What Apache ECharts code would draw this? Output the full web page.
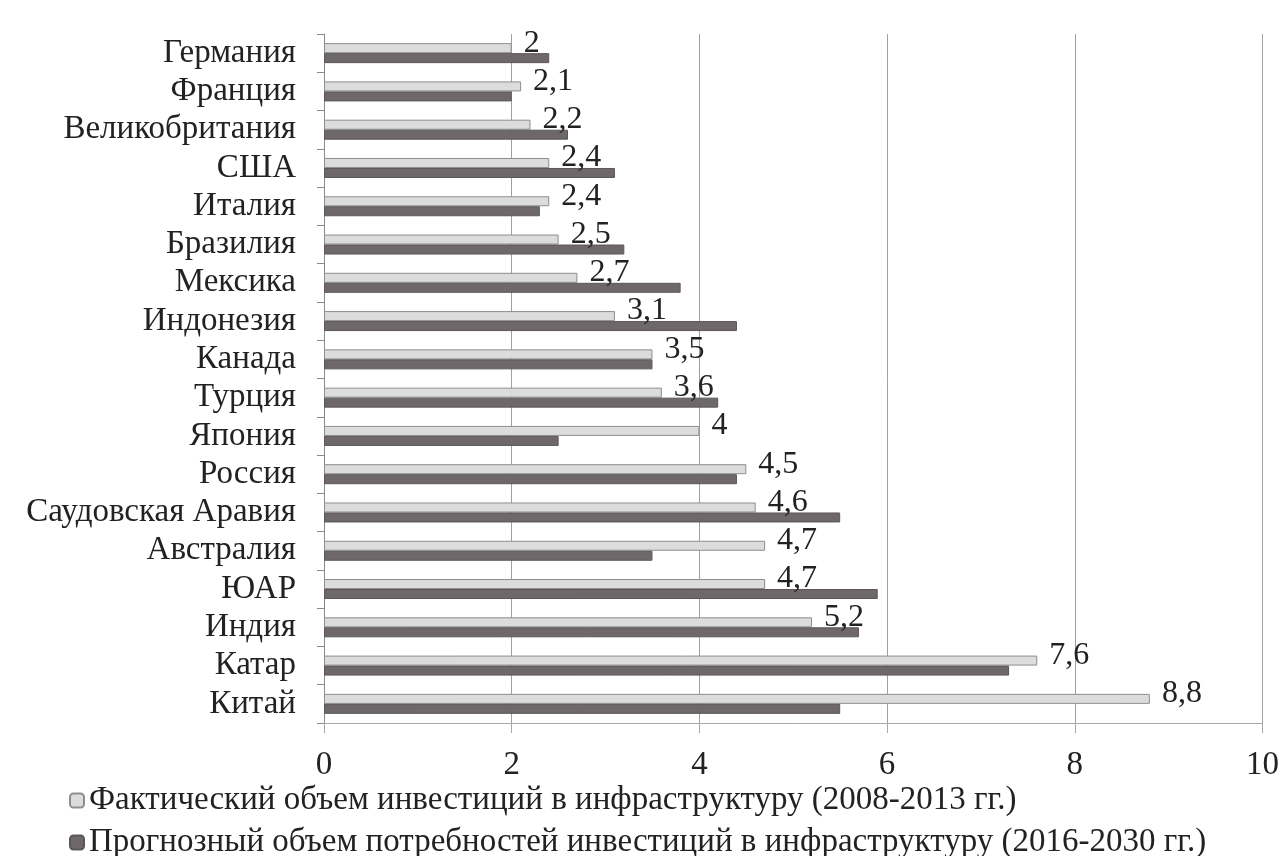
<!DOCTYPE html>
<html>
<head>
<meta charset="utf-8">
<script src="https://cdn.jsdelivr.net/npm/echarts@6/dist/echarts.min.js"></script>
<style>
html,body{margin:0;padding:0;background:#fff;}
#chart{width:1282px;height:856px;}
</style>
</head>
<body>
<div id="chart"></div>
<script>
var countries = ['Германия','Франция','Великобритания','США','Италия','Бразилия','Мексика','Индонезия','Канада','Турция','Япония','Россия','Саудовская Аравия','Австралия','ЮАР','Индия','Катар','Китай'];
var actual = [2, 2.1, 2.2, 2.4, 2.4, 2.5, 2.7, 3.1, 3.5, 3.6, 4, 4.5, 4.6, 4.7, 4.7, 5.2, 7.6, 8.8];
var forecast = [2.4, 2.0, 2.6, 3.1, 2.3, 3.2, 3.8, 4.4, 3.5, 4.2, 2.5, 4.4, 5.5, 3.5, 5.9, 5.7, 7.3, 5.5];
var seriesNames = ['Фактический объем инвестиций в инфраструктуру (2008-2013 гг.)', 'Прогнозный объем потребностей инвестиций в инфраструктуру (2016-2030 гг.)'];
var xTicks = [0, 2, 4, 6, 8, 10];

var FONT = '"Liberation Serif","DejaVu Serif",serif';
var legendText = {fontFamily: FONT, fontSize: 33, color: '#222'};
var chart = echarts.init(document.getElementById('chart'), null, {renderer: 'canvas'});
chart.setOption({
  backgroundColor: '#fff',
  animation: false,
  textStyle: {fontFamily: FONT},
  grid: {left: 324, right: 19, top: 34, bottom: 133, containLabel: false},
  legend: [
    {
      left: 64, top: 779,
      itemWidth: 14, itemHeight: 14, itemGap: 0,
      textStyle: legendText,
      data: [seriesNames[0]]
    },
    {
      left: 64, top: 821,
      itemWidth: 14, itemHeight: 14, itemGap: 0,
      textStyle: legendText,
      data: [seriesNames[1]]
    }
  ],
  xAxis: {
    type: 'value',
    min: xTicks[0],
    max: xTicks[xTicks.length - 1],
    interval: 2,
    axisLine: {show: true, lineStyle: {color: '#a8a8a8', width: 1}},
    axisTick: {show: true, length: 10, lineStyle: {color: '#a8a8a8'}},
    splitLine: {show: true, lineStyle: {color: '#a0a0a0', width: 1}},
    axisLabel: {fontFamily: FONT, fontSize: 33, color: '#222', margin: 26}
  },
  yAxis: {
    type: 'category',
    inverse: true,
    data: countries,
    axisLine: {show: true, lineStyle: {color: '#8a8a8a', width: 1}},
    axisTick: {show: true, length: 7, interval: 0, lineStyle: {color: '#8a8a8a'}},
    axisLabel: {fontFamily: FONT, fontSize: 33, color: '#222', margin: 28, interval: 0, hideOverlap: false}
  },
  series: [
    {
      name: seriesNames[0],
      type: 'bar',
      data: actual,
      barWidth: 10,
      barGap: '0%',
      itemStyle: {color: '#dcdcdc', borderColor: '#8e8e8e', borderWidth: 1},
      label: {
        show: true,
        position: 'right',
        distance: 12,
        offset: [0, -5],
        fontFamily: FONT,
        fontSize: 32,
        color: '#222',
        formatter: function (p) { return String(p.value).replace('.', ','); }
      }
    },
    {
      name: seriesNames[1],
      type: 'bar',
      data: forecast,
      barWidth: 10,
      barGap: '0%',
      itemStyle: {color: '#6e686b', borderColor: '#5c5659', borderWidth: 1}
    }
  ]
});
</script>
</body>
</html>
